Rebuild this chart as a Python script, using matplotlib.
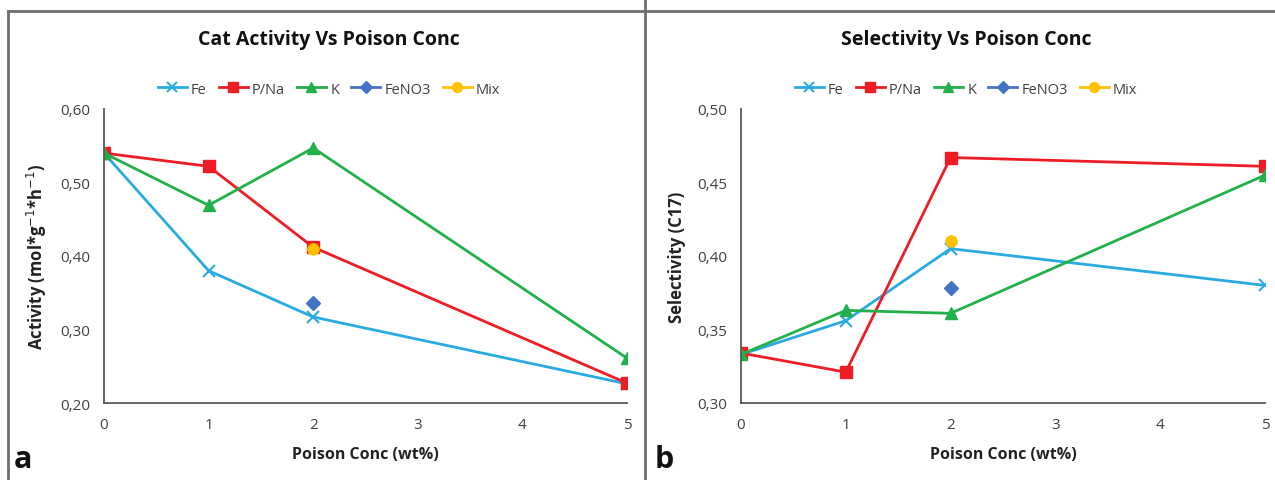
import matplotlib.pyplot as plt
from matplotlib.lines import Line2D
from matplotlib.ticker import FuncFormatter

plt.rcParams['font.family'] = ['Open Sans', 'DejaVu Sans']

# data
x = [0, 1, 2, 5]
act_fe = [0.540, 0.380, 0.317, 0.226]
act_pna = [0.540, 0.522, 0.412, 0.227]
act_k = [0.540, 0.469, 0.547, 0.261]
act_feno3 = [0.336]
act_mix = [0.410]

sel_fe = [0.333, 0.356, 0.405, 0.380]
sel_pna = [0.334, 0.321, 0.467, 0.461]
sel_k = [0.333, 0.363, 0.361, 0.455]
sel_feno3 = [0.378]
sel_mix = [0.410]

x_single = [2]
names = ['Fe', 'P/Na', 'K', 'FeNO3', 'Mix']

c_fe, c_pna, c_k, c_no3, c_mix = '#29ABE2', '#EE1C25', '#22B04B', '#4472C4', '#FFC000'
axis_col = '#595959'
text_col = '#404040'

fig = plt.figure(figsize=(12.75, 4.81), dpi=100)
W, H = 1275, 481

def px(l, t, r, b):
    return [l / W, 1 - b / H, (r - l) / W, (b - t) / H]

ax1 = fig.add_axes(px(104, 110, 627, 404))
ax2 = fig.add_axes(px(741, 110, 1265, 404))

def draw(ax, fe, pna, k, no3, mix, ylo, yhi, step, ylabel, title, cx):
    ax.plot(x, fe, color=c_fe, lw=2, marker='x', ms=8, mew=1.5, label=names[0])
    ax.plot(x, pna, color=c_pna, lw=2, marker='s', ms=8, label=names[1])
    ax.plot(x, k, color=c_k, lw=2, marker='^', ms=8, label=names[2])
    ax.plot(x_single, no3, color=c_no3, lw=2, marker='D', ms=7, ls='none', label=names[3])
    ax.plot(x_single, mix, color=c_mix, lw=2, marker='o', ms=8, ls='none', label=names[4])
    ax.set_xlim(0, 5)
    ax.set_ylim(ylo, yhi)
    ax.set_xticks(range(6))
    ax.set_yticks([ylo + i * step for i in range(int(round((yhi - ylo) / step)) + 1)])
    ax.yaxis.set_major_formatter(FuncFormatter(lambda v, p: f'{v:.2f}'.replace('.', ',')))
    for s in ['top', 'right']:
        ax.spines[s].set_visible(False)
    for s in ['left', 'bottom']:
        ax.spines[s].set_color(axis_col)
        ax.spines[s].set_linewidth(1.3)
    ax.tick_params(length=0, labelsize=11, labelcolor=text_col, pad=10)
    ax.set_xlabel('Poison Conc (wt%)', fontsize=11.5, fontweight='bold', color='#222222', labelpad=10)
    ax.set_ylabel(ylabel, fontsize=12, fontweight='bold', color='#222222', labelpad=8)
    fig.text(cx / W, 1 - 40 / H, title, fontsize=14, fontweight='bold', color='#111111',
             ha='center', va='center')
    handles = [
        Line2D([], [], color=c_fe, lw=2, marker='x', ms=7, mew=1.5),
        Line2D([], [], color=c_pna, lw=2, marker='s', ms=7),
        Line2D([], [], color=c_k, lw=2, marker='^', ms=7),
        Line2D([], [], color=c_no3, lw=2, marker='D', ms=6),
        Line2D([], [], color=c_mix, lw=2, marker='o', ms=7),
    ]
    fig.legend(handles, names, loc='center', bbox_to_anchor=(cx / W, 1 - 90 / H), ncol=5,
               frameon=False, fontsize=10.5, handlelength=2.0, handletextpad=0.3,
               columnspacing=0.8, borderaxespad=0.0, labelcolor=text_col)

draw(ax1, act_fe, act_pna, act_k, act_feno3, act_mix, 0.20, 0.60, 0.10,
     'Activity (mol*g$^{-1}$*h$^{-1}$)', 'Cat Activity Vs Poison Conc', 329)
draw(ax2, sel_fe, sel_pna, sel_k, sel_feno3, sel_mix, 0.30, 0.50, 0.05,
     'Selectivity (C17)', 'Selectivity Vs Poison Conc', 966)

# panel frames
frame_col = '#6E6E6E'
for xs, ys in [([8, 8], [12, 481]), ([8, 1275], [12, 12]), ([645, 645], [0, 481])]:
    fig.add_artist(Line2D([v / W for v in xs], [1 - v / H for v in ys], color=frame_col, lw=2))

fig.text(14 / W, 1 - 468 / H, 'a', fontsize=22, fontweight='bold', color='#111111')
fig.text(655 / W, 1 - 468 / H, 'b', fontsize=22, fontweight='bold', color='#111111')

fig.savefig('out.png', dpi=100)
